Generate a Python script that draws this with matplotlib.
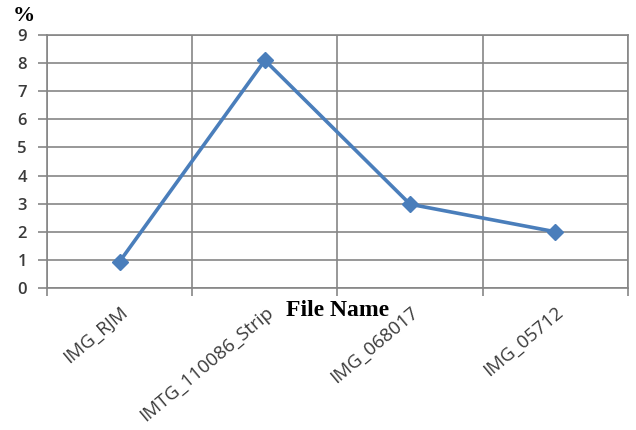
import numpy as np
import matplotlib.pyplot as plt

files = ["IMG_RJM", "IMTG_110086_Strip", "IMG_068017", "IMG_05712"]
percent = [0.94, 8.1, 2.98, 2.0]
y_ticks = list(range(0, 10))

fig = plt.figure(figsize=(6.36, 4.30), dpi=100)
ax = fig.add_axes([0.0739, 0.3302, 0.9135, 0.5884])

x = np.arange(len(files))
ax.plot(x, percent, color="#4a7ebb", lw=2.6, marker="D", ms=8.5,
        markeredgecolor="#4a7ebb", zorder=3)

ax.set_xlim(-0.5, len(files) - 0.5)
ax.set_ylim(0, 9)
ax.set_yticks(y_ticks)
ax.set_yticklabels([str(t) for t in y_ticks], fontsize=12, family="Open Sans",
                   fontweight="semibold", color="#3a3a3a")

# category axis: ticks and gridlines sit between the categories
ax.set_xticks(np.arange(-0.5, len(files)), minor=False)
ax.set_xticklabels([""] * (len(files) + 1))
ax.set_xticks(x, minor=True)
ax.set_xticklabels(files, minor=True, rotation=40, ha="right", va="top",
                   rotation_mode="anchor", fontsize=13.5, family="Open Sans",
                   color="#3a3a3a")
ax.tick_params(axis="x", which="minor", length=0, pad=11)
ax.tick_params(axis="x", which="major", length=6, width=1.2, color="#868686", direction="out")
ax.tick_params(axis="y", length=6.5, width=1.2, color="#868686", direction="out", pad=8)

ax.grid(True, which="major", color="#868686", lw=1.2)
ax.set_axisbelow(True)
for s in ax.spines.values():
    s.set_color("#868686")
    s.set_linewidth(1.2)

fig.text(0.53, 0.279, "File Name", ha="center", va="center", fontsize=17,
         fontweight="bold", family="Liberation Serif")
fig.text(0.02, 0.962, "%", ha="left", va="center", fontsize=16,
         fontweight="bold", family="Liberation Serif")

fig.savefig("out.png", dpi=100)
